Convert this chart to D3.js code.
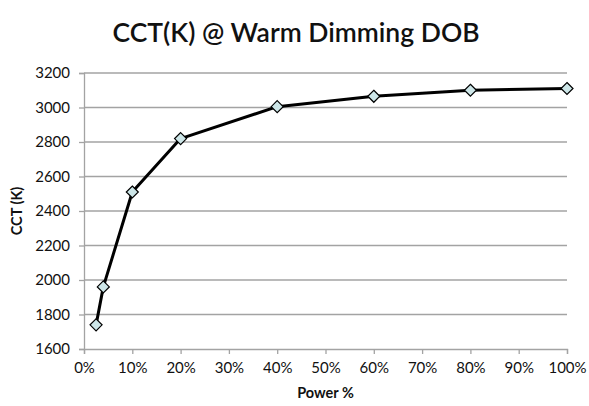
<!DOCTYPE html>
<html>
<head>
<meta charset="utf-8">
<script src="https://cdn.jsdelivr.net/npm/d3@7"></script>
<style>
  html, body { margin: 0; padding: 0; background: #fff; }
  svg { display: block; }
  text { font-family: "Lato", "Open Sans", sans-serif; fill: #111; }
</style>
</head>
<body>
<svg id="chart" width="589" height="406"></svg>
<script>
// Power level (%) and measured correlated colour temperature (K)
const powerPct = [2.5, 4, 10, 20, 40, 60, 80, 100];
const cctK = [1740, 1960, 2510, 2820, 3005, 3065, 3100, 3110];
const yTicks = [1600, 1800, 2000, 2200, 2400, 2600, 2800, 3000, 3200];
const xTicks = [0, 10, 20, 30, 40, 50, 60, 70, 80, 90, 100];

const svg = d3.select("#chart");
const plotL = 84, plotR = 567, plotT = 73, plotB = 349;

const x = d3.scaleLinear().domain([0, 100]).range([plotL, plotR]);
const y = d3.scaleLinear().domain([1600, 3200]).range([plotB, plotT]);

// horizontal gridlines
svg.append("g")
  .selectAll("line")
  .data(yTicks.slice(1))
  .join("line")
  .attr("x1", plotL).attr("x2", plotR)
  .attr("y1", d => y(d)).attr("y2", d => y(d))
  .attr("stroke", "#a3a3a3").attr("stroke-width", 1.3);

// y axis
const yAxis = svg.append("g")
  .attr("transform", `translate(${plotL},0)`)
  .call(d3.axisLeft(y).tickValues(yTicks).tickFormat(d3.format("d")).tickSize(5).tickPadding(9));
yAxis.select(".domain").attr("stroke", "#a3a3a3").attr("stroke-width", 1.3);
yAxis.selectAll(".tick line").attr("stroke", "#a3a3a3").attr("stroke-width", 1.3);
yAxis.selectAll("text").attr("font-size", 15).attr("font-family", "Lato, sans-serif").attr("fill", "#111");

// x axis
const xAxis = svg.append("g")
  .attr("transform", `translate(0,${plotB})`)
  .call(d3.axisBottom(x).tickValues(xTicks).tickFormat(d => d + "%").tickSize(5).tickPadding(8));
xAxis.select(".domain").attr("stroke", "#a3a3a3").attr("stroke-width", 1.3);
xAxis.selectAll(".tick line").attr("stroke", "#a3a3a3").attr("stroke-width", 1.3);
xAxis.selectAll("text").attr("font-size", 15).attr("font-family", "Lato, sans-serif").attr("fill", "#111");

// data line
const pts = powerPct.map((p, i) => [p, cctK[i]]);
svg.append("path")
  .datum(pts)
  .attr("fill", "none")
  .attr("stroke", "#000")
  .attr("stroke-width", 3)
  .attr("stroke-linejoin", "round")
  .attr("d", d3.line().x(d => x(d[0])).y(d => y(d[1])));

// diamond markers
svg.append("g")
  .selectAll("path")
  .data(pts)
  .join("path")
  .attr("transform", d => `translate(${x(d[0])},${y(d[1])})`)
  .attr("d", "M0,-6L6,0L0,6L-6,0Z")
  .attr("fill", "#cde6e8")
  .attr("stroke", "#000")
  .attr("stroke-width", 1.2);

// title
svg.append("text")
  .attr("x", 296).attr("y", 42)
  .attr("text-anchor", "middle")
  .attr("font-size", 26.5)
  .attr("font-weight", 600)
  .text("CCT(K) @ Warm Dimming DOB");

// axis titles
svg.append("text")
  .attr("x", (plotL + plotR) / 2).attr("y", 398)
  .attr("text-anchor", "middle")
  .attr("font-size", 14.5)
  .attr("font-weight", 700)
  .text("Power %");

svg.append("text")
  .attr("transform", `translate(22,${(plotT + plotB) / 2}) rotate(-90)`)
  .attr("text-anchor", "middle")
  .attr("font-size", 14.5)
  .attr("font-weight", 700)
  .text("CCT (K)");
</script>
</body>
</html>
